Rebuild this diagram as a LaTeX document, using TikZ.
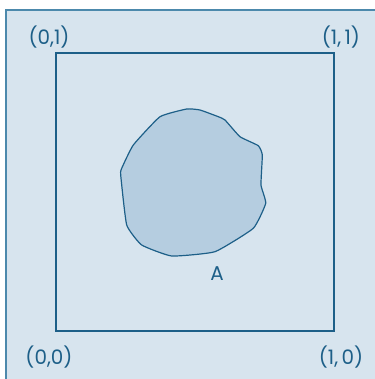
\documentclass[tikz,border=0pt]{standalone}
\usepackage{fontspec}
\setmainfont{Poppins}
\definecolor{bgc}{HTML}{D7E4EE}
\definecolor{framec}{HTML}{4C89AC}
\definecolor{linec}{HTML}{1D5F88}
\definecolor{blobc}{HTML}{B5CDE0}
\begin{document}
\begin{tikzpicture}[x=1bp,y=-1bp,
  lbl/.style={text=linec,font=\fontsize{20}{22}\selectfont,inner sep=0pt},
  sq/.style={draw=linec,line width=1.4bp},
  blob/.style={draw=linec,fill=blobc,line width=1.2bp}]
\useasboundingbox (0,0) rectangle (375,379);
\fill[white] (0,0) rectangle (375,379);
\fill[bgc] (6,10) rectangle (375,379);
\draw[framec,line width=2.2bp] (6,380) -- (6,10) -- (376,10);
\coordinate (ll) at (56,331);
\coordinate (ur) at (334,53);
\draw[sq] (ll) rectangle (ur);
\draw[blob] plot[smooth cycle,tension=0.25] coordinates {
 (186.7,109) (200,110) (218.3,116.7) (225,120) (240,136.7) (258.3,145.7)
 (262.3,155) (261,185) (265.7,203.3) (253.3,228.3) (215,251.7) (171.7,256)
 (141.7,245) (126.7,225) (120.7,175) (121.7,168.3) (133.3,145) (160,116.7)};
\node[lbl] (l01) at (49,37) {(0,1)};
\node[lbl] (l11) at (341,37) {(1,\,1)};
\node[lbl] (l00) at (49,357) {(0,0)};
\node[lbl] (l10) at (341,357) {(1,\,0)};
\node[lbl] (la) at (217,274) {A};
\end{tikzpicture}
\end{document}
